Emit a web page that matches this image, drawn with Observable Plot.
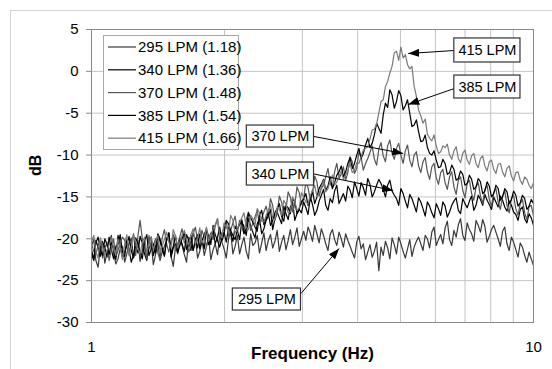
<!DOCTYPE html>
<html><head><meta charset="utf-8">
<script src="https://cdn.jsdelivr.net/npm/d3@7"></script>
<script src="https://cdn.jsdelivr.net/npm/@observablehq/plot@0.6"></script>
<style>
body{margin:0;background:#fff;}
#chart{position:relative;width:552px;height:369px;overflow:hidden;}
</style></head><body><div id="chart"></div>
<script>
// Frequency grid (Hz)
const freq = [1.000,1.012,1.023,1.035,1.047,1.059,1.072,1.084,1.096,1.109,
1.122,1.135,1.148,1.161,1.175,1.189,1.202,1.216,1.230,1.245,
1.259,1.274,1.288,1.303,1.318,1.334,1.349,1.365,1.380,1.396,
1.413,1.429,1.445,1.462,1.479,1.496,1.514,1.531,1.549,1.567,
1.585,1.603,1.622,1.641,1.660,1.679,1.698,1.718,1.738,1.758,
1.778,1.799,1.820,1.841,1.862,1.884,1.905,1.928,1.950,1.972,
1.995,2.018,2.042,2.065,2.089,2.113,2.138,2.163,2.188,2.213,
2.239,2.265,2.291,2.317,2.344,2.371,2.399,2.427,2.455,2.483,
2.512,2.541,2.570,2.600,2.630,2.661,2.692,2.723,2.754,2.786,
2.818,2.851,2.884,2.917,2.951,2.985,3.020,3.055,3.090,3.126,
3.162,3.199,3.236,3.273,3.311,3.350,3.388,3.428,3.467,3.508,
3.548,3.589,3.631,3.673,3.715,3.758,3.802,3.846,3.890,3.936,
3.981,4.027,4.074,4.121,4.169,4.217,4.266,4.315,4.365,4.416,
4.467,4.519,4.571,4.624,4.677,4.732,4.786,4.842,4.898,4.955,
5.012,5.070,5.129,5.188,5.248,5.309,5.370,5.433,5.495,5.559,
5.623,5.689,5.754,5.821,5.888,5.957,6.026,6.095,6.166,6.237,
6.310,6.383,6.457,6.532,6.607,6.683,6.761,6.839,6.918,6.998,
7.079,7.161,7.244,7.328,7.413,7.499,7.586,7.674,7.762,7.852,
7.943,8.035,8.128,8.222,8.318,8.414,8.511,8.610,8.710,8.811,
8.913,9.016,9.120,9.226,9.333,9.441,9.550,9.661,9.772,9.885,
10.000];

// dB values
const lpm295 = [-20.8,-20.1,-22.6,-23.4,-21.0,-20.3,-22.9,-21.6,-20.5,-19.6,
-21.7,-23.0,-22.4,-21.2,-20.9,-22.8,-21.8,-20.6,-19.9,-22.2,
-21.5,-20.2,-22.7,-21.4,-20.6,-22.4,-21.2,-20.5,-23.1,-21.9,
-20.4,-22.6,-21.6,-20.9,-20.2,-19.4,-22.1,-23.3,-21.0,-21.8,
-20.3,-20.8,-21.9,-22.8,-19.8,-20.6,-21.4,-19.9,-22.3,-21.5,
-20.1,-22.0,-20.9,-19.8,-22.5,-21.3,-20.6,-21.9,-19.7,-20.4,
-21.2,-22.3,-20.0,-19.2,-21.8,-20.9,-19.6,-21.8,-20.7,-19.8,
-21.5,-22.4,-19.4,-20.8,-20.5,-19.6,-21.7,-20.5,-19.3,-21.4,
-20.2,-19.5,-21.1,-20.3,-19.0,-21.5,-20.4,-19.6,-21.3,-20.2,
-18.9,-20.7,-19.8,-18.7,-20.9,-20.0,-19.1,-20.2,-18.6,-19.3,
-20.3,-18.4,-19.4,-20.5,-18.8,-19.6,-20.6,-21.4,-19.5,-18.9,
-20.1,-20.8,-19.2,-20.0,-21.0,-19.4,-20.2,-20.9,-21.6,-22.3,
-20.4,-19.7,-21.2,-20.6,-22.5,-21.6,-20.7,-22.2,-21.5,-20.4,
-23.8,-21.0,-22.0,-20.3,-21.1,-22.4,-19.9,-20.7,-21.8,-19.8,
-20.6,-21.5,-22.3,-21.2,-20.1,-22.1,-21.0,-20.3,-19.8,-20.6,
-21.4,-19.6,-20.0,-21.1,-19.2,-18.6,-20.8,-20.1,-19.5,-20.6,
-18.7,-17.9,-20.1,-20.8,-19.0,-19.8,-18.3,-17.6,-19.6,-20.2,
-18.1,-18.9,-19.4,-20.3,-17.8,-18.4,-19.2,-17.7,-18.5,-20.4,
-19.7,-18.9,-18.4,-19.2,-20.0,-20.9,-19.1,-18.6,-20.6,-21.4,
-19.8,-20.4,-21.3,-22.2,-20.5,-21.0,-22.0,-22.8,-21.6,-22.4,
-23.2];
const lpm340 = [-21.3,-22.5,-20.2,-21.0,-22.1,-20.4,-21.0,-22.2,-19.8,-21.3,
-22.4,-20.9,-20.7,-19.5,-21.6,-22.1,-20.1,-21.2,-22.8,-21.9,
-20.9,-21.7,-19.7,-20.5,-21.8,-22.6,-20.4,-19.8,-22.0,-21.0,
-19.5,-20.3,-21.3,-22.0,-20.0,-19.3,-22.2,-21.1,-20.6,-21.6,
-19.9,-20.6,-21.5,-19.5,-20.2,-21.4,-19.3,-20.1,-21.1,-19.4,
-20.0,-21.2,-18.9,-19.7,-20.7,-18.4,-19.5,-20.2,-21.0,-19.9,
-19.2,-20.4,-18.6,-19.3,-20.3,-18.5,-19.0,-20.1,-17.9,-18.6,
-19.6,-17.6,-18.4,-19.2,-19.9,-18.2,-17.6,-19.4,-18.8,-17.8,
-17.3,-16.5,-18.9,-17.6,-16.8,-17.5,-18.2,-16.1,-17.0,-17.7,
-16.2,-15.6,-17.8,-17.0,-16.5,-16.9,-15.6,-16.3,-17.1,-15.0,
-15.9,-17.2,-16.6,-15.5,-14.8,-14.1,-16.0,-16.6,-15.2,-15.7,
-14.3,-13.6,-15.8,-15.2,-14.6,-15.5,-13.7,-14.2,-15.1,-13.2,
-14.0,-14.9,-13.3,-13.9,-14.8,-12.8,-13.5,-15.0,-14.4,-13.6,
-12.9,-13.4,-14.1,-15.0,-13.6,-13.0,-14.3,-14.8,-15.2,-16.0,
-14.0,-14.6,-15.5,-16.3,-14.7,-15.2,-16.0,-16.8,-15.1,-15.6,
-16.4,-17.3,-15.6,-16.1,-16.9,-17.5,-15.8,-16.4,-17.2,-15.6,
-16.1,-17.4,-16.8,-16.0,-15.5,-15.1,-16.6,-17.0,-15.2,-15.8,
-16.3,-15.5,-14.9,-16.6,-16.0,-14.8,-15.3,-16.0,-14.7,-15.4,
-15.9,-16.5,-15.0,-15.6,-16.2,-14.9,-15.4,-16.2,-16.7,-15.5,
-16.0,-16.8,-17.1,-17.8,-16.5,-16.2,-17.6,-18.1,-17.0,-17.5,
-18.4];
const lpm370 = [-20.6,-21.5,-21.9,-20.8,-20.3,-22.3,-21.2,-20.4,-22.6,-21.3,
-20.0,-22.2,-21.4,-20.5,-19.8,-20.2,-21.0,-21.9,-20.5,-19.4,
-22.0,-19.6,-17.8,-20.0,-21.1,-22.4,-19.6,-21.2,-20.8,-20.0,
-21.7,-22.5,-19.9,-18.9,-20.6,-21.6,-20.4,-19.5,-21.3,-20.6,
-19.7,-18.8,-20.5,-20.1,-21.6,-20.8,-19.4,-18.6,-20.2,-21.0,
-19.0,-19.8,-20.9,-19.9,-19.3,-20.1,-18.5,-17.6,-20.0,-19.3,
-18.8,-17.9,-19.7,-19.0,-18.1,-17.3,-19.2,-17.8,-18.6,-19.4,
-17.7,-16.8,-19.0,-18.1,-17.4,-16.6,-18.3,-17.5,-16.8,-16.1,
-17.2,-15.2,-16.0,-17.8,-17.0,-14.9,-15.6,-17.2,-16.5,-14.4,
-15.0,-16.8,-15.9,-13.8,-14.5,-15.9,-15.3,-13.2,-13.9,-15.4,
-14.6,-12.5,-13.2,-14.9,-14.0,-13.6,-12.6,-11.6,-13.4,-13.9,
-12.0,-11.0,-12.8,-12.3,-11.4,-13.0,-12.1,-10.2,-10.8,-12.2,
-11.6,-9.6,-10.3,-11.8,-11.0,-10.4,-9.7,-8.9,-10.5,-11.2,
-9.3,-8.5,-10.1,-10.8,-8.9,-8.2,-9.8,-10.5,-9.2,-8.6,
-10.0,-11.0,-9.5,-8.8,-10.6,-11.4,-10.0,-9.6,-11.3,-12.1,
-10.8,-10.3,-12.0,-12.9,-11.4,-11.0,-12.7,-13.5,-12.1,-11.7,
-13.3,-14.1,-12.6,-12.0,-13.8,-14.7,-13.0,-12.6,-14.2,-15.1,
-13.4,-13.0,-14.6,-15.4,-13.8,-13.3,-14.9,-15.8,-14.1,-13.6,
-15.3,-16.1,-14.5,-14.0,-15.6,-16.5,-14.9,-14.3,-16.0,-16.9,
-15.2,-14.8,-16.4,-17.2,-15.8,-15.3,-16.9,-17.7,-16.2,-16.0,
-17.3];
const lpm385 = [-21.8,-22.6,-20.5,-19.8,-21.3,-22.0,-20.0,-20.7,-21.9,-20.4,
-21.1,-22.5,-19.6,-20.9,-22.2,-21.5,-20.8,-19.7,-21.4,-22.3,
-19.9,-20.6,-21.6,-22.4,-20.3,-19.5,-22.0,-21.2,-20.6,-21.7,
-19.4,-20.0,-21.0,-22.1,-20.2,-19.3,-21.7,-20.9,-19.6,-21.6,
-20.8,-20.0,-19.2,-21.3,-20.5,-19.6,-21.4,-20.4,-19.5,-21.2,
-20.3,-19.5,-18.8,-20.7,-19.9,-18.9,-20.6,-19.8,-18.6,-20.3,
-19.4,-17.8,-18.2,-19.0,-19.6,-20.1,-18.9,-18.3,-17.7,-19.4,
-18.8,-16.9,-17.5,-18.0,-18.6,-19.1,-17.2,-16.6,-18.3,-17.6,
-16.9,-18.4,-17.8,-16.9,-16.4,-15.8,-17.3,-17.9,-16.0,-16.3,
-17.0,-15.2,-15.6,-17.0,-16.4,-15.6,-15.2,-14.6,-16.0,-15.4,
-14.2,-15.8,-15.0,-14.0,-13.5,-12.9,-14.2,-13.7,-12.6,-14.0,
-13.3,-12.4,-12.0,-11.3,-12.6,-12.0,-11.0,-10.3,-11.6,-11.0,
-10.0,-9.2,-10.4,-9.8,-8.8,-8.0,-9.1,-8.6,-7.6,-6.2,
-6.8,-7.4,-5.2,-3.8,-4.3,-2.2,-2.8,-4.4,-3.6,-2.3,
-2.9,-4.6,-4.1,-3.4,-5.0,-6.6,-6.4,-5.8,-7.2,-8.4,
-8.3,-7.6,-9.1,-9.8,-10.0,-9.5,-10.6,-11.5,-11.4,-10.5,
-11.0,-12.3,-12.1,-11.2,-11.7,-13.0,-12.8,-11.9,-12.3,-13.6,
-13.4,-12.4,-12.9,-14.1,-13.8,-12.8,-13.2,-14.6,-14.3,-13.2,
-13.7,-15.0,-14.6,-13.6,-14.0,-15.4,-15.0,-14.0,-14.4,-15.8,
-15.3,-14.3,-14.8,-16.1,-15.7,-14.8,-15.2,-16.5,-16.1,-15.3,
-15.8];
const lpm415 = [-20.4,-19.6,-21.5,-22.3,-19.9,-20.8,-22.0,-21.4,-20.7,-19.9,
-21.2,-22.0,-20.0,-21.0,-22.5,-20.6,-19.5,-22.0,-21.0,-19.6,
-20.3,-21.2,-21.8,-20.5,-19.8,-21.6,-20.6,-19.8,-21.4,-20.3,
-19.6,-21.5,-20.9,-20.1,-19.2,-20.4,-21.1,-18.9,-19.7,-21.1,
-20.4,-19.6,-19.0,-20.2,-20.7,-19.5,-18.8,-20.6,-19.9,-18.7,
-20.5,-19.9,-18.6,-20.3,-19.8,-18.8,-18.3,-17.6,-19.5,-19.9,
-18.1,-18.6,-19.2,-17.2,-17.8,-19.3,-18.9,-18.1,-17.5,-16.9,
-18.6,-18.9,-17.2,-17.6,-18.4,-16.4,-16.9,-17.9,-18.0,-17.2,
-16.6,-15.9,-17.6,-17.8,-16.2,-16.5,-17.2,-15.4,-15.9,-16.9,
-16.8,-15.0,-15.5,-16.6,-16.3,-14.5,-15.0,-15.6,-15.9,-14.8,
-14.3,-13.6,-15.0,-14.6,-13.8,-13.0,-14.4,-14.0,-13.1,-12.4,
-13.6,-13.2,-12.5,-11.9,-12.9,-12.4,-11.8,-11.0,-12.1,-11.8,
-10.9,-11.0,-10.2,-9.4,-9.2,-9.0,-8.1,-7.0,-6.9,-6.3,
-5.0,-3.6,-3.4,-1.8,-1.2,-0.2,0.6,2.2,2.4,1.3,
2.9,1.6,2.0,0.8,0.3,0.6,-1.8,-3.0,-4.6,-5.3,
-6.2,-5.7,-7.5,-8.0,-8.3,-7.6,-8.9,-9.8,-9.6,-8.9,
-9.1,-8.7,-10.0,-10.5,-9.5,-9.0,-10.4,-10.9,-9.8,-9.4,
-10.6,-11.1,-10.1,-9.8,-11.0,-11.5,-10.4,-10.1,-11.3,-11.9,
-10.8,-10.6,-11.7,-12.2,-11.1,-11.0,-12.0,-12.6,-11.6,-11.3,
-12.5,-13.1,-12.1,-12.0,-13.0,-13.5,-12.6,-12.9,-13.6,-14.0,
-13.3];

const seriesNames = ["295 LPM (1.18)","340 LPM (1.36)","370 LPM (1.48)","385 LPM (1.54)","415 LPM (1.66)"];
const seriesColors = ["#383838","#000000","#555555","#000000","#7a7a7a"];
const yTicks = [-30,-25,-20,-15,-10,-5,0,5];
const xTickLabels = [1,10];
const xGrid = [2,3,4,5,6,7,8,9];

// Callouts (frequency / dB coordinates)
const annotLabels = ["415 LPM","385 LPM","370 LPM","340 LPM","295 LPM"];
const annotBoxF = [[6.62,9.344],[6.62,9.344],[2.246,3.187],[2.246,3.187],[2.088,2.978]];
const annotBoxDb = [[3.93,1.06],[-0.50,-3.24],[-6.47,-9.10],[-10.89,-13.64],[-25.94,-28.57]];
const arrowFrom = [[6.62,2.49],[6.62,-2.05],[3.187,-7.78],[3.187,-12.26],[2.978,-26.54]];
const arrowTo = [[5.207,2.13],[5.207,-3.96],[5.073,-9.81],[4.814,-14.23],[3.632,-21.16]];

const allSeries = [lpm295, lpm340, lpm370, lpm385, lpm415];
const rows = allSeries.flatMap((vals, k) => vals.map((v, i) => ({f: freq[i], db: v, s: seriesNames[k]})));
const annots = annotLabels.map((t, k) => ({
  label: t,
  bx1: annotBoxF[k][0], bx2: annotBoxF[k][1], by1: annotBoxDb[k][0], by2: annotBoxDb[k][1],
  tx: Math.sqrt(annotBoxF[k][0] * annotBoxF[k][1]), ty: (annotBoxDb[k][0] + annotBoxDb[k][1]) / 2,
  ax1: arrowFrom[k][0], ay1: arrowFrom[k][1], ax2: arrowTo[k][0], ay2: arrowTo[k][1]
}));

const font = "'Liberation Sans', Arial, Helvetica, sans-serif";
const chart = Plot.plot({
  width: 552, height: 369,
  marginLeft: 91, marginRight: 19, marginTop: 29, marginBottom: 47,
  x: {type: "log", domain: [1, 10]},
  y: {domain: [-30, 5]},
  color: {domain: seriesNames, range: seriesColors},
  style: {fontFamily: font, fontSize: "15px", color: "#000", background: "transparent", overflow: "visible"},
  marks: [
    Plot.gridX(xGrid, {stroke: "#c4c4c4", strokeOpacity: 1}),
    Plot.gridY(yTicks, {stroke: "#c4c4c4", strokeOpacity: 1}),
    Plot.axisY(yTicks, {tickSize: 5, tickPadding: 8, label: null, stroke: "#8a8a8a", fontSize: 15, tickFormat: d => String(d)}),
    Plot.axisX(xTickLabels, {tickSize: 0, tickPadding: 19, label: null, fontSize: 15, tickFormat: d => String(d)}),
    Plot.line(rows, {x: "f", y: "db", z: "s", stroke: "s", strokeWidth: 1.2}),
    Plot.frame({stroke: "#8a8a8a"}),
    Plot.link(annots, {x1: "ax1", y1: "ay1", x2: "ax2", y2: "ay2", stroke: "#000", strokeWidth: 1}),
    Plot.rect(annots, {x1: "bx1", x2: "bx2", y1: "by1", y2: "by2", fill: "#fff", stroke: "#333", strokeWidth: 1.2}),
    Plot.text(annots, {x: "tx", y: "ty", text: "label", fontSize: 14.5, fill: "#000"}),
    Plot.text(["Frequency (Hz)"], {frameAnchor: "bottom", dy: 36, text: d => d, fontWeight: "bold", fontSize: 17, fill: "#000"}),
    Plot.text(["dB"], {frameAnchor: "left", dx: -56, rotate: -90, text: d => d, fontWeight: "bold", fontSize: 16, fill: "#000"})
  ]
});

const svg = d3.select(chart);
// outer chart-area border
svg.insert("rect", ":first-child").attr("x", 10.5).attr("y", 10.5).attr("width", 600).attr("height", 400)
  .attr("fill", "none").attr("stroke", "#d4d4d4");
// filled arrowheads
const defs = svg.append("defs");
defs.append("marker").attr("id", "ah").attr("viewBox", "0 0 11 8").attr("refX", 11).attr("refY", 4)
  .attr("markerWidth", 11).attr("markerHeight", 8).attr("markerUnits", "userSpaceOnUse").attr("orient", "auto")
  .append("path").attr("d", "M0,0L11,4L0,8Z").attr("fill", "#000");
svg.selectAll("g[aria-label='link'] path").attr("marker-end", "url(#ah)");

// legend
const lg = svg.append("g").attr("font-family", font).attr("font-size", 15).attr("text-anchor", "start");
lg.append("rect").attr("x", 103.5).attr("y", 35.5).attr("width", 135).attr("height", 114)
  .attr("fill", "#fff").attr("stroke", "#a8a8a8");
seriesNames.forEach((name, k) => {
  const yy = 47 + k * 22.8;
  lg.append("line").attr("x1", 108).attr("x2", 136).attr("y1", yy).attr("y2", yy)
    .attr("stroke", seriesColors[k]).attr("stroke-width", 1.2);
  lg.append("text").attr("x", 138).attr("y", yy).attr("dy", "0.35em").attr("text-anchor", "start")
    .attr("fill", "#000").text(name);
});

document.getElementById("chart").appendChild(chart);
</script></body></html>
